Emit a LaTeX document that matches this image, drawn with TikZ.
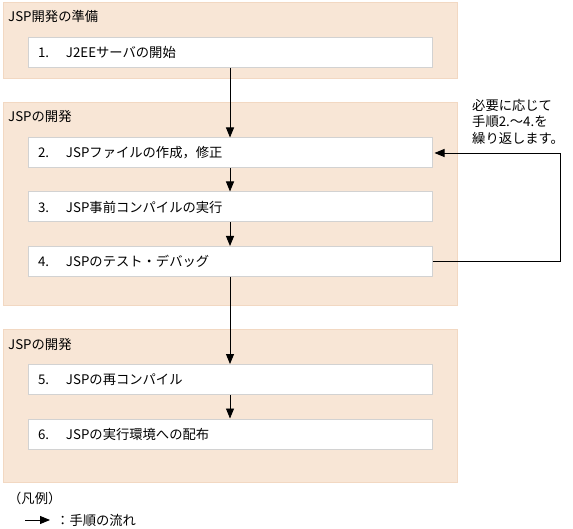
\documentclass[tikz,border=0pt]{standalone}
\usepackage{fontspec}
\setmainfont{Noto Sans CJK JP}
\usetikzlibrary{arrows.meta}

\definecolor{panelfill}{HTML}{F8E6D6}
\definecolor{paneledge}{HTML}{F2D8C2}
\definecolor{boxedge}{HTML}{D2D2D2}

\tikzset{
  panel/.style={draw=paneledge, fill=panelfill, line width=1pt, minimum width=454pt, inner sep=0pt},
  stepbox/.style={draw=boxedge, fill=white, line width=1pt, minimum width=404pt, minimum height=30pt,
    text width=384pt, inner xsep=10pt, inner ysep=0pt, align=left},
  flow/.style={-{Triangle[length=10pt,width=8pt]}, line width=0.9pt},
  label/.style={anchor=west, inner sep=0pt}
}
\newcommand{\stepno}[1]{\makebox[28pt][l]{#1}}

\begin{document}
\begin{tikzpicture}[x=1pt, y=-1pt, font=\fontsize{13.3}{16}\selectfont]
\useasboundingbox (0,0) rectangle (573,529);

% Bereiche
\node[panel, minimum height=76pt] (p1) at (230,41) {};
\node[panel, minimum height=203pt] (p2) at (230,204.5) {};
\node[panel, minimum height=152pt] (p3) at (230,406) {};

\node[label] (p1t) at (8,16) {JSP開発の準備};
\node[label] (p2t) at (8,117) {JSPの開発};
\node[label] (p3t) at (8,344) {JSPの開発};

% Schritte
\node[stepbox] (s1) at (230,52.5) {\stepno{1.}J2EEサーバの開始};
\node[stepbox] (s2) at (230,153) {\stepno{2.}JSPファイルの作成，修正};
\node[stepbox] (s3) at (230,207) {\stepno{3.}JSP事前コンパイルの実行};
\node[stepbox] (s4) at (230,261.5) {\stepno{4.}JSPのテスト・デバッグ};
\node[stepbox] (s5) at (230,379.5) {\stepno{5.}JSPの再コンパイル};
\node[stepbox] (s6) at (230,434) {\stepno{6.}JSPの実行環境への配布};

% Pfeile
\draw[flow] (s1) -- (s2);
\draw[flow] (s2) -- (s3);
\draw[flow] (s3) -- (s4);
\draw[flow] (s4) -- (s5);
\draw[flow] (s5) -- (s6);
\draw[flow, shorten >=2pt] (s4.east) -- ++(128,0) |- (s2.east);

\node[anchor=north west, align=left, inner sep=0pt, font=\fontsize{13.3}{16.5}\selectfont] (note) at (472,99)
  {必要に応じて\\手順2.～4.を\\繰り返します。};

% Legende
\node[label] (lgt) at (8,498) {（凡例）};
\coordinate (lga) at (25,520);
\coordinate (lgb) at (50,520);
\draw[flow] (lga) -- (lgb);
\node[label] (lgl) at (56,520) {：手順の流れ};

\end{tikzpicture}
\end{document}
